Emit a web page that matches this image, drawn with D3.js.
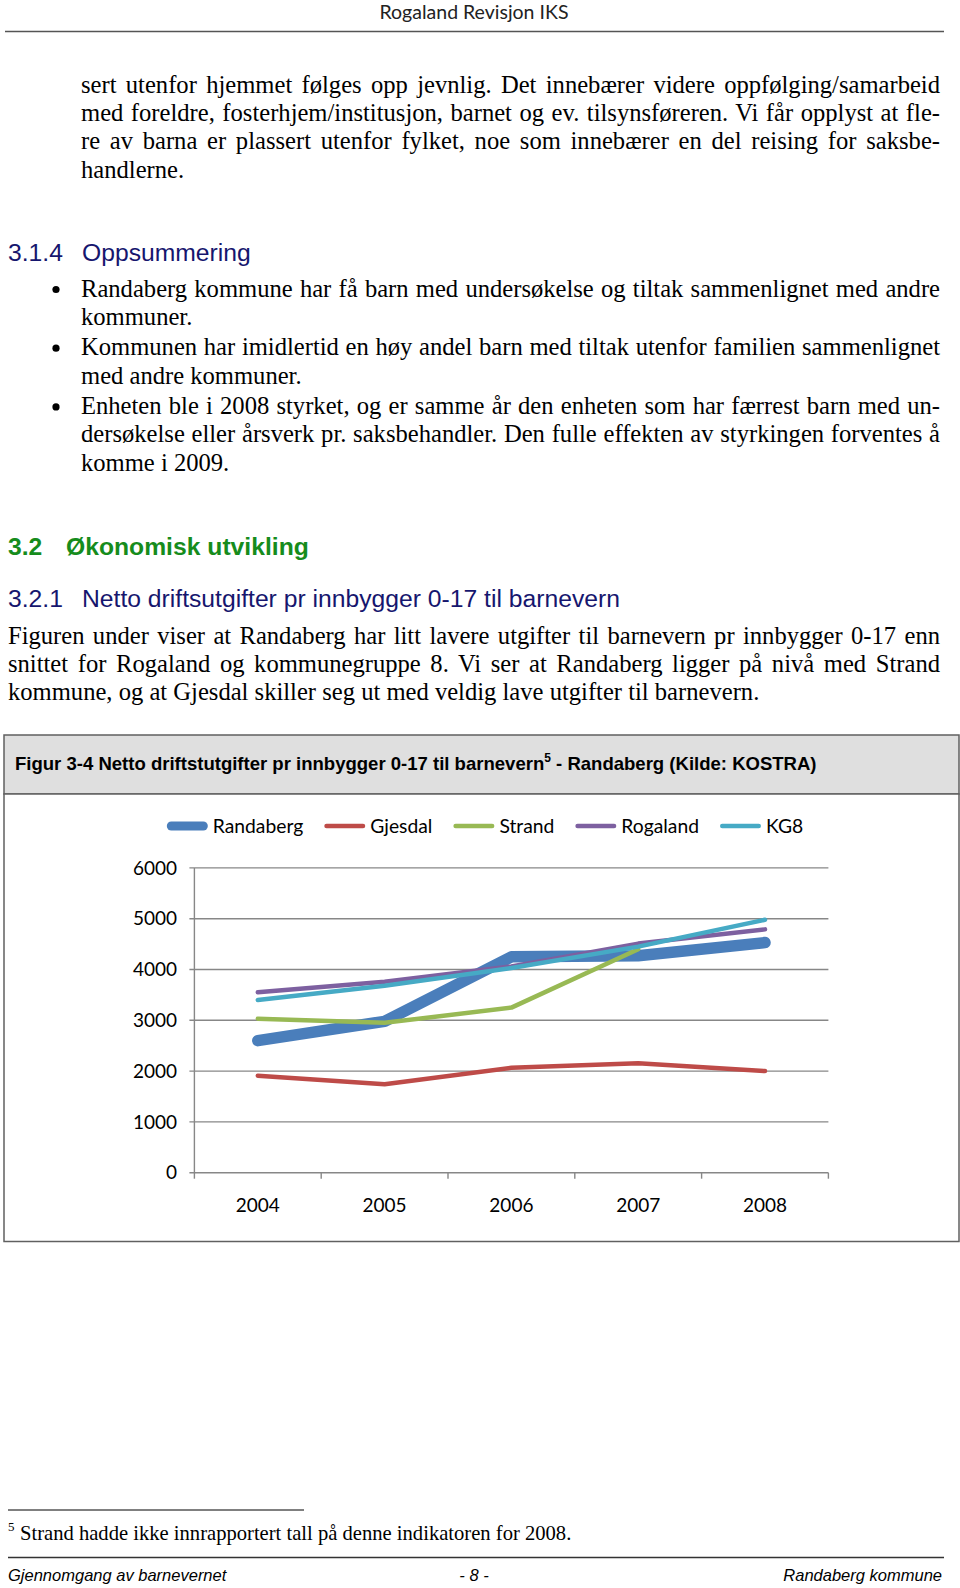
<!DOCTYPE html>
<html>
<head>
<meta charset="utf-8">
<script src="https://cdn.jsdelivr.net/npm/d3@7"></script>
<style>
  html, body { margin: 0; padding: 0; background: #ffffff; }
  svg { display: block; }
</style>
</head>
<body>
<div id="page"></div>
<script>
// ---------------- DATA ----------------
const years = ["2004", "2005", "2006", "2007", "2008"];
const seriesNames = ["Randaberg", "Gjesdal", "Strand", "Rogaland", "KG8"];
const randaberg = [2600, 2980, 4250, 4270, 4530];
const gjesdal   = [1910, 1740, 2065, 2155, 2000];
const strand    = [3030, 2950, 3250, 4400, null];
const rogaland  = [3550, 3760, 4060, 4510, 4790];
const kg8       = [3400, 3680, 4030, 4450, 4980];
const yTicks = [0, 1000, 2000, 3000, 4000, 5000, 6000];

// ---------------- TEXT ----------------
const headerText = "Rogaland Revisjon IKS";
const para1 = [
  "sert utenfor hjemmet følges opp jevnlig. Det innebærer videre oppfølging/samarbeid",
  "med foreldre, fosterhjem/institusjon, barnet og ev. tilsynsføreren. Vi får opplyst at fle-",
  "re av barna er plassert utenfor fylket, noe som innebærer en del reising for saksbe-",
  "handlerne."
];
const bullets = [
  ["Randaberg kommune har få barn med undersøkelse og tiltak sammenlignet med andre",
   "kommuner."],
  ["Kommunen har imidlertid en høy andel barn med tiltak utenfor familien sammenlignet",
   "med andre kommuner."],
  ["Enheten ble i 2008 styrket, og er samme år den enheten som har færrest barn med un-",
   "dersøkelse eller årsverk pr. saksbehandler. Den fulle effekten av styrkingen forventes å",
   "komme i 2009."]
];
const para3 = [
  "Figuren under viser at Randaberg har litt lavere utgifter til barnevern pr innbygger 0-17 enn",
  "snittet for Rogaland og kommunegruppe 8. Vi ser at Randaberg ligger på nivå med Strand",
  "kommune, og at Gjesdal skiller seg ut med veldig lave utgifter til barnevern."
];
const captionMain = "Figur 3-4 Netto driftstutgifter pr innbygger 0-17 til barnevern";
const captionSup = "5";
const captionTail = " - Randaberg (Kilde: KOSTRA)";
const footnoteText = "Strand hadde ikke innrapportert tall på denne indikatoren for 2008.";

// ---------------- PAGE ----------------
const W = 960, H = 1588;
const SERIF = "'Liberation Serif', 'Times New Roman', serif";
const SANS = "'Liberation Sans', Arial, sans-serif";
const CAL = "Lato, 'Open Sans', sans-serif";

const svg = d3.select("#page").append("svg").attr("width", W).attr("height", H);
svg.append("rect").attr("width", W).attr("height", H).attr("fill", "#fff");

// header
svg.append("text").attr("x", 474).attr("y", 19).attr("text-anchor", "middle")
  .attr("font-family", CAL).attr("font-size", 19.5).attr("fill", "#222").text(headerText);
svg.append("line").attr("x1", 5).attr("x2", 944).attr("y1", 31.5).attr("y2", 31.5)
  .attr("stroke", "#555").attr("stroke-width", 1.6);

function bodyLine(txt, x, y, right, justify) {
  const t = svg.append("text").attr("x", x).attr("y", y)
    .attr("font-family", SERIF).attr("font-size", 24.6).attr("fill", "#000").text(txt);
  if (justify) {
    const w = t.node().getComputedTextLength();
    const n = (txt.match(/ /g) || []).length;
    if (n) t.style("word-spacing", ((right - x - w) / n) + "px");
  }
  return t;
}

const LH = 28.35;
para1.forEach((l, i) => bodyLine(l, 81, 92.5 + i * LH, 940, i < para1.length - 1));

function heading(num, txt, x2, y, color, bold) {
  svg.append("text").attr("x", 8).attr("y", y).attr("font-family", SANS)
    .attr("font-size", 24.7).attr("font-weight", bold ? "bold" : "normal")
    .attr("fill", color).text(num);
  svg.append("text").attr("x", x2).attr("y", y).attr("font-family", SANS)
    .attr("font-size", 24.7).attr("font-weight", bold ? "bold" : "normal")
    .attr("fill", color).text(txt);
}
heading("3.1.4", "Oppsummering", 82, 261, "#16166e", false);

// bullets
let by = 296.5;
bullets.forEach(b => {
  svg.append("circle").attr("cx", 56).attr("cy", by - 7).attr("r", 3.6).attr("fill", "#000");
  b.forEach((l, i) => { bodyLine(l, 81, by, 940, i < b.length - 1); by += LH; });
  by += 2;
});

heading("3.2", "Økonomisk utvikling", 66, 555, "#168c1c", true);
heading("3.2.1", "Netto driftsutgifter pr innbygger 0-17 til barnevern", 82, 607, "#16166e", false);

para3.forEach((l, i) => bodyLine(l, 8, 643.5 + i * LH, 940, i < para3.length - 1));

// ---------------- FIGURE BOX ----------------
const box = { x: 4, y: 735, w: 955, h: 506.5, capH: 59 };
svg.append("rect").attr("x", box.x).attr("y", box.y).attr("width", box.w).attr("height", box.capH)
  .attr("fill", "#dfdfdf").attr("stroke", "#606060").attr("stroke-width", 1.5);
svg.append("rect").attr("x", box.x).attr("y", box.y + box.capH).attr("width", box.w)
  .attr("height", box.h - box.capH).attr("fill", "#fff").attr("stroke", "#606060").attr("stroke-width", 1.5);

const cap = svg.append("text").attr("x", 15).attr("y", 770).attr("font-family", SANS)
  .attr("font-size", 18.55).attr("font-weight", "bold").attr("fill", "#000");
cap.append("tspan").text(captionMain);
cap.append("tspan").attr("font-size", 12).attr("dy", -8).text(captionSup);
cap.append("tspan").attr("dy", 8).text(captionTail);

// ---------------- CHART ----------------
const plot = { left: 194.4, right: 828.4, top: 867.9, bottom: 1172.7 };
const x = d3.scaleBand().domain(years).range([plot.left, plot.right]);
const y = d3.scaleLinear().domain([0, 6000]).range([plot.bottom, plot.top]);
const gridColor = "#878787";

const g = svg.append("g");
g.append("g").selectAll("line").data(yTicks).join("line")
  .attr("x1", plot.left - 5).attr("x2", plot.right)
  .attr("y1", d => y(d)).attr("y2", d => y(d))
  .attr("stroke", gridColor).attr("stroke-width", 1.4);
g.append("line").attr("x1", plot.left).attr("x2", plot.left)
  .attr("y1", y(6000)).attr("y2", y(0)).attr("stroke", gridColor).attr("stroke-width", 1.4);
const bounds = years.map(d => x(d)).concat([x(years[years.length - 1]) + x.step()]);
g.append("g").selectAll("line").data(bounds).join("line")
  .attr("x1", d => d).attr("x2", d => d).attr("y1", y(0)).attr("y2", y(0) + 6)
  .attr("stroke", gridColor).attr("stroke-width", 1.4);
g.append("g").selectAll("text").data(yTicks).join("text")
  .attr("x", 177).attr("y", d => y(d)).attr("dy", "0.35em").attr("text-anchor", "end")
  .attr("font-family", CAL).attr("font-size", 19).attr("fill", "#000").text(d => d);
g.append("g").selectAll("text").data(years).join("text")
  .attr("x", d => x(d) + x.bandwidth() / 2).attr("y", 1212).attr("text-anchor", "middle")
  .attr("font-family", CAL).attr("font-size", 19).attr("fill", "#000").text(d => d);

const series = [
  { name: seriesNames[0], values: randaberg, color: "#4a7ebb", width: 11.5, lw: 9 },
  { name: seriesNames[1], values: gjesdal,   color: "#be4b48", width: 4.5, lw: 4.5 },
  { name: seriesNames[2], values: strand,    color: "#98b954", width: 4.5, lw: 4.5 },
  { name: seriesNames[3], values: rogaland,  color: "#7d60a0", width: 4.5, lw: 4.5 },
  { name: seriesNames[4], values: kg8,       color: "#46aac5", width: 4.5, lw: 4.5 }
];
const line = d3.line()
  .defined(d => d.v != null)
  .x(d => x(d.year) + x.bandwidth() / 2)
  .y(d => y(d.v));
g.append("g").selectAll("path").data(series).join("path")
  .attr("d", s => line(years.map((yr, i) => ({ year: yr, v: s.values[i] }))))
  .attr("fill", "none").attr("stroke", s => s.color).attr("stroke-width", s => s.width)
  .attr("stroke-linecap", "round").attr("stroke-linejoin", "round");

// legend
const lg = svg.append("g");
const legY = 826, sampleLen = 41, textOff = 46, itemGap = 21;
const items = series.map(s => {
  const t = lg.append("text").attr("y", legY).attr("dy", "0.35em")
    .attr("font-family", CAL).attr("font-size", 19.3).attr("fill", "#000").text(s.name);
  return { s, t, w: t.node().getComputedTextLength() };
});
const totalW = d3.sum(items, d => textOff + d.w) + itemGap * (items.length - 1);
let lx = 485 - totalW / 2;
items.forEach(it => {
  lg.append("line").attr("x1", lx + it.s.lw / 2).attr("x2", lx + sampleLen - it.s.lw / 2)
    .attr("y1", legY).attr("y2", legY).attr("stroke", it.s.color)
    .attr("stroke-width", it.s.lw).attr("stroke-linecap", "round");
  it.t.attr("x", lx + textOff);
  lx += textOff + it.w + itemGap;
});

// ---------------- FOOTNOTE & FOOTER ----------------
svg.append("line").attr("x1", 8).attr("x2", 304).attr("y1", 1510).attr("y2", 1510)
  .attr("stroke", "#000").attr("stroke-width", 1);
svg.append("text").attr("x", 8).attr("y", 1531).attr("font-family", SERIF)
  .attr("font-size", 13).text("5");
svg.append("text").attr("x", 20).attr("y", 1540).attr("font-family", SERIF)
  .attr("font-size", 20.6).attr("fill", "#000").text(footnoteText);
svg.append("line").attr("x1", 8).attr("x2", 944).attr("y1", 1557.5).attr("y2", 1557.5)
  .attr("stroke", "#333").attr("stroke-width", 1.3);
const footer = [["Gjennomgang av barnevernet", 8, "start"], ["- 8 -", 474, "middle"], ["Randaberg kommune", 942, "end"]];
footer.forEach(f => svg.append("text").attr("x", f[1]).attr("y", 1581).attr("text-anchor", f[2])
  .attr("font-family", SANS).attr("font-style", "italic").attr("font-size", 16.5).attr("fill", "#000").text(f[0]));
</script>
</body>
</html>
